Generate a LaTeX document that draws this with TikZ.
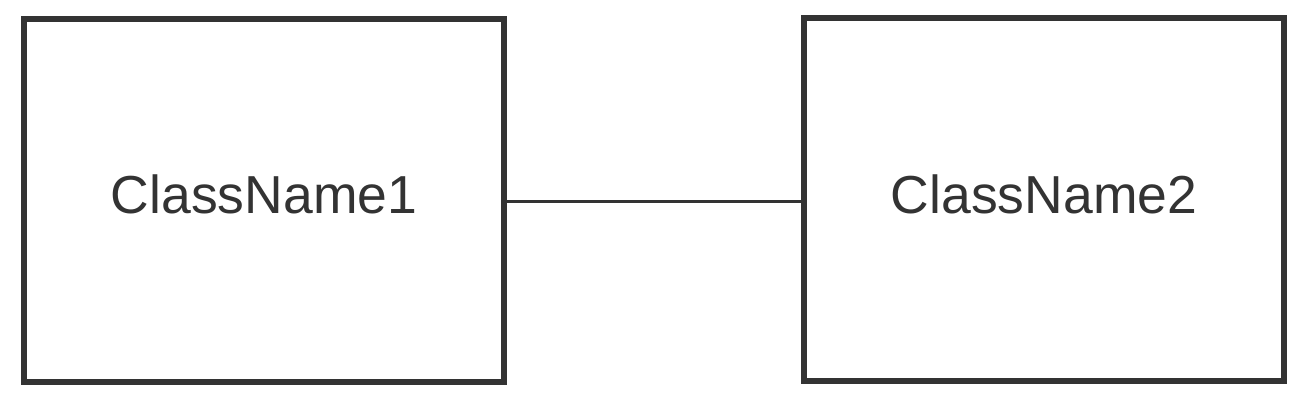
\documentclass[tikz,border=0pt]{standalone}
\usepackage{fontspec}
\setmainfont{Liberation Sans}
\definecolor{linegray}{HTML}{333333}
\begin{document}
\begin{tikzpicture}[x=1pt,y=-1pt,
  classbox/.style={draw=linegray, line width=6pt, minimum width=480pt, minimum height=363pt, outer sep=0pt, inner sep=0pt},
  classlabel/.style={text=linegray, inner sep=0pt, font=\fontsize{53.5}{60}\selectfont},
  assoc/.style={draw=linegray, line width=3pt}]
\useasboundingbox (0,0) rectangle (1304,400);
\node[classbox] (c1) at (264,200.5) {};
\node[classbox] (c2) at (1044,199.5) {};
\node[classlabel] (t1) at (264,194) {ClassName1};
\node[classlabel] (t2) at (1044,194) {ClassName2};
\draw[assoc] (c1.east |- 0,201) -- (c2.west |- 0,201);
\end{tikzpicture}
\end{document}
